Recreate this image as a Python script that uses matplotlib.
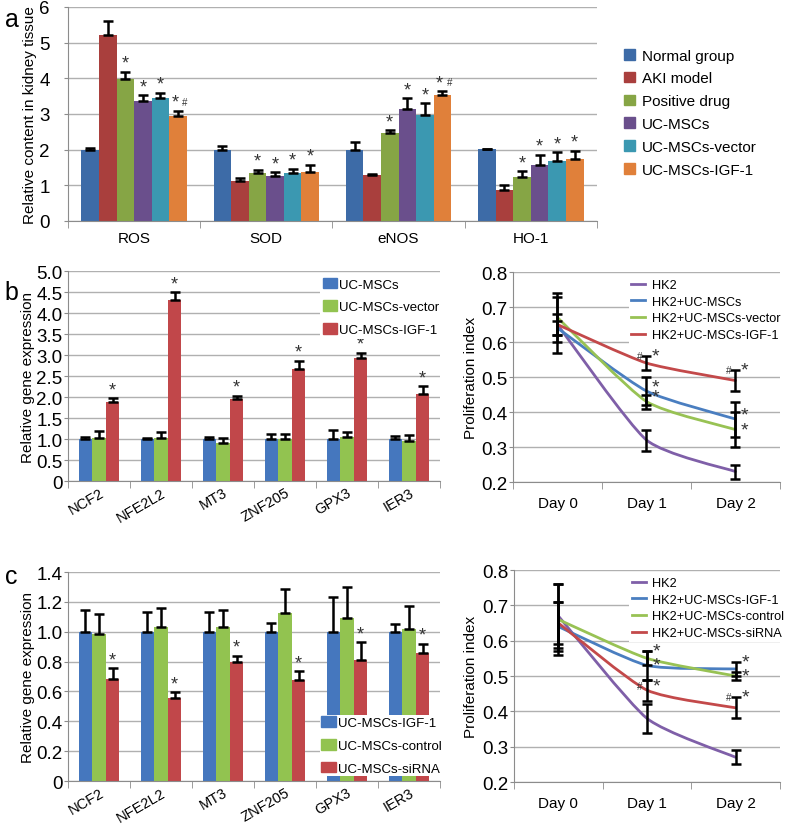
import numpy as np
import matplotlib
matplotlib.use('Agg')
import matplotlib.pyplot as plt
from matplotlib.path import Path
from matplotlib.patches import PathPatch
from matplotlib.lines import Line2D

plt.rcParams['font.family'] = ['Liberation Sans', 'DejaVu Sans']
plt.rcParams['font.size'] = 11

# panel a: kidney tissue
a_cats = ['ROS', 'SOD', 'eNOS', 'HO-1']
a_groups = ['Normal group', 'AKI model', 'Positive drug', 'UC-MSCs', 'UC-MSCs-vector', 'UC-MSCs-IGF-1']
a_normal = [2.0, 2.0, 2.0, 2.01]
a_normal_err = [0.05, 0.11, 0.2, 0.02]
a_aki = [5.2, 1.12, 1.29, 0.86]
a_aki_err = [0.42, 0.09, 0.03, 0.15]
a_drug = [3.97, 1.35, 2.48, 1.22]
a_drug_err = [0.22, 0.09, 0.07, 0.17]
a_msc = [3.36, 1.26, 3.14, 1.57]
a_msc_err = [0.16, 0.11, 0.3, 0.28]
a_vec = [3.44, 1.35, 2.98, 1.67]
a_vec_err = [0.15, 0.11, 0.32, 0.25]
a_igf = [2.95, 1.38, 3.53, 1.73]
a_igf_err = [0.14, 0.19, 0.11, 0.24]
a_marks = [['', '', '', ''], ['', '', '', ''], ['*', '*', '*', '*'],
           ['*', '*', '*', '*'], ['*', '*', '*', '*'], ['*#', '*', '*#', '*']]

# panel b: gene expression + proliferation
genes = ['NCF2', 'NFE2L2', 'MT3', 'ZNF205', 'GPX3', 'IER3']
b_groups = ['UC-MSCs', 'UC-MSCs-vector', 'UC-MSCs-IGF-1']
b_msc = [1.0, 1.0, 1.0, 1.0, 1.0, 1.0]
b_msc_err = [0.05, 0.02, 0.05, 0.11, 0.21, 0.07]
b_vec = [1.02, 1.03, 0.91, 1.0, 1.06, 0.95]
b_vec_err = [0.18, 0.14, 0.11, 0.13, 0.11, 0.14]
b_igf = [1.88, 4.3, 1.96, 2.67, 2.94, 2.07]
b_igf_err = [0.09, 0.2, 0.07, 0.19, 0.11, 0.19]
b_marks = [[''] * 6, [''] * 6, ['*'] * 6]

days = ['Day 0', 'Day 1', 'Day 2']
b_lines = ['HK2', 'HK2+UC-MSCs', 'HK2+UC-MSCs-vector', 'HK2+UC-MSCs-IGF-1']
b_hk2 = [0.65, 0.32, 0.23]
b_hk2_err = [0.08, 0.03, 0.02]
b_hk2_msc = [0.64, 0.46, 0.38]
b_hk2_msc_err = [0.02, 0.04, 0.05]
b_hk2_vec = [0.67, 0.43, 0.35]
b_hk2_vec_err = [0.07, 0.02, 0.05]
b_hk2_igf = [0.65, 0.54, 0.49]
b_hk2_igf_err = [0.03, 0.02, 0.03]
# where the significance mark sits: 'm' = at the mean, 'u' = just above the mean,
# 't' = at the top of the error bar
b_line_marks = [['', '', ''], ['', '*u', '*u'], ['', '*u', '*m'], ['', '#*t', '#*t']]

# panel c: siRNA knockdown
c_groups = ['UC-MSCs-IGF-1', 'UC-MSCs-control', 'UC-MSCs-siRNA']
c_igf = [1.0, 1.0, 1.0, 1.0, 1.0, 1.0]
c_igf_err = [0.146, 0.135, 0.135, 0.06, 0.23, 0.05]
c_ctrl = [0.985, 1.03, 1.03, 1.127, 1.093, 1.02]
c_ctrl_err = [0.135, 0.13, 0.117, 0.157, 0.207, 0.15]
c_sirna = [0.68, 0.553, 0.80, 0.677, 0.813, 0.86]
c_sirna_err = [0.075, 0.041, 0.04, 0.058, 0.117, 0.058]
c_marks = [[''] * 6, [''] * 6, ['*'] * 6]

c_lines = ['HK2', 'HK2+UC-MSCs-IGF-1', 'HK2+UC-MSCs-control', 'HK2+UC-MSCs-siRNA']
c_hk2 = [0.67, 0.38, 0.27]
c_hk2_err = [0.09, 0.04, 0.02]
c_hk2_igf = [0.64, 0.53, 0.52]
c_hk2_igf_err = [0.07, 0.04, 0.02]
c_hk2_ctrl = [0.66, 0.55, 0.50]
c_hk2_ctrl_err = [0.10, 0.02, 0.01]
c_hk2_sirna = [0.65, 0.46, 0.41]
c_hk2_sirna_err = [0.06, 0.03, 0.03]
c_line_marks = [['', '', ''], ['', '*m', '*t'], ['', '*t', '*m'], ['', '#*u', '#*t']]

a_colors = ['#3D6BA7', '#A93F3D', '#86A545', '#6A4F8C', '#3B98B1', '#E0803A']
bc_colors = ['#4577BE', '#92C350', '#C1474A']
line_colors = ['#7F5FA8', '#4A7EC0', '#98C254', '#C3494A']

GRID = '#B0B0B0'
AXC = '#8C8C8C'
MARKC = '#333333'


def style_axes(ax, ncat, ypad):
    ax.set_xlim(-0.5, ncat - 0.5)
    ax.yaxis.grid(True, color=GRID, lw=1.0, zorder=0)
    ax.set_axisbelow(True)
    for s in ['top', 'right']:
        ax.spines[s].set_visible(False)
    for s in ['left', 'bottom']:
        ax.spines[s].set_color(AXC)
    ax.set_xticks(np.arange(-0.5, ncat), minor=True)
    ax.tick_params(axis='x', which='major', length=0)
    ax.tick_params(axis='x', which='minor', length=5, color=AXC)
    ax.tick_params(axis='y', length=3, color=AXC, pad=ypad, labelsize=13.5)


def bar_panel(ax, cats, vals, errs, colors, width, marks, ypad):
    x = np.arange(len(cats))
    n = len(vals)
    for i in range(n):
        pos = x + (i - (n - 1) / 2) * width
        v = np.array(vals[i])
        e = np.array(errs[i])
        ax.bar(pos, v, width, color=colors[i], zorder=2)
        ax.errorbar(pos, v, yerr=[np.zeros(len(v)), e], fmt='none', ecolor='black',
                    elinewidth=1.8, capsize=3.5, capthick=1.8, zorder=3)
        for j, m in enumerate(marks[i]):
            if not m:
                continue
            top = v[j] + e[j]
            if '#' in m:
                ax.annotate('*', (pos[j], top), xytext=(-2, 0), textcoords='offset points',
                            ha='center', va='bottom', fontsize=13, color=MARKC)
                ax.annotate('#', (pos[j], top), xytext=(5, 3), textcoords='offset points',
                            ha='center', va='bottom', fontsize=7, color=MARKC)
            else:
                ax.annotate('*', (pos[j], top), xytext=(0, 0), textcoords='offset points',
                            ha='center', va='bottom', fontsize=13, color=MARKC)
    ax.set_xticks(x)
    style_axes(ax, len(cats), ypad)


def smooth_path(x, y, k=10.0):
    # gently smoothed line (Excel style): cubic Bezier through the points
    pts = np.column_stack([x, y]).astype(float)
    ext = np.vstack([pts[0], pts, pts[-1]])
    verts = [pts[0]]
    codes = [Path.MOVETO]
    for s in range(len(pts) - 1):
        p0, p1, p2, p3 = ext[s], ext[s + 1], ext[s + 2], ext[s + 3]
        verts += [p1 + (p2 - p0) / k, p2 - (p3 - p1) / k, p2]
        codes += [Path.CURVE4] * 3
    return Path(verts, codes)


def line_panel(ax, vals, errs, labels, marks):
    x = np.arange(len(days))
    handles = []
    for i in range(len(vals)):
        v = np.array(vals[i])
        e = np.array(errs[i])
        ax.add_patch(PathPatch(smooth_path(x, v), fill=False, edgecolor=line_colors[i],
                               lw=2.0, zorder=3, capstyle='round'))
        handles.append(Line2D([], [], color=line_colors[i], lw=2.0))
        ax.errorbar(x, v, yerr=e, fmt='none', ecolor='black', elinewidth=1.8,
                    capsize=3.5, capthick=1.8, zorder=4)
        for j, m in enumerate(marks[i]):
            if not m:
                continue
            yy = v[j] + (e[j] if m.endswith('t') else 0.0)
            dy = 3 if m.endswith('u') else 0
            ax.annotate('*', (x[j], yy), xytext=(4, dy), textcoords='offset points',
                        ha='left', va='center', fontsize=14, color=MARKC, zorder=5)
            if '#' in m:
                ax.annotate('#', (x[j], yy), xytext=(-3, dy), textcoords='offset points',
                            ha='right', va='center', fontsize=7, color=MARKC, zorder=5)
    ax.set_xticks(x)
    ax.set_xticklabels(days)
    style_axes(ax, len(days), 1)
    ax.tick_params(axis='x', which='major', pad=10)
    ax.set_ylim(0.2, 0.8)
    ax.set_yticks([0.2, 0.3, 0.4, 0.5, 0.6, 0.7, 0.8])
    ax.set_yticklabels(['0.2', '0.3', '0.4', '0.5', '0.6', '0.7', '0.8'])
    ax.set_ylabel('Proliferation index')
    leg = ax.legend(handles, labels, loc='upper left', bbox_to_anchor=(0.41, 1.008), fontsize=9.2,
                    handlelength=1.1, handletextpad=0.5, labelspacing=0.36,
                    frameon=True, facecolor='white', edgecolor='none', framealpha=1,
                    fancybox=False, borderpad=0.2)
    leg.set_zorder(6)


fig = plt.figure(figsize=(7.87, 8.37), dpi=100)

# a
ax_a = fig.add_axes([0.0864, 0.7348, 0.672, 0.2557])
bar_panel(ax_a, a_cats, [a_normal, a_aki, a_drug, a_msc, a_vec, a_igf],
          [a_normal_err, a_aki_err, a_drug_err, a_msc_err, a_vec_err, a_igf_err],
          a_colors, 0.133, a_marks, 10)
ax_a.set_xticklabels(a_cats)
ax_a.tick_params(axis='x', which='major', pad=7)
ax_a.set_ylim(0, 6)
ax_a.set_yticks(range(7))
ax_a.set_ylabel('Relative content in kidney tissue')
ax_a.yaxis.set_label_coords(-0.058, 0.5)
handles = [plt.Rectangle((0, 0), 1, 1, color=c) for c in a_colors]
ax_a.legend(handles, a_groups, loc='upper left', bbox_to_anchor=(1.025, 0.87), frameon=False,
            handlelength=0.7, handleheight=0.7, handletextpad=0.5, labelspacing=0.58, fontsize=11)

# b left
ax_b = fig.add_axes([0.0864, 0.4241, 0.4727, 0.2509])
bar_panel(ax_b, genes, [b_msc, b_vec, b_igf], [b_msc_err, b_vec_err, b_igf_err],
          bc_colors, 0.22, b_marks, 1)
ax_b.set_xticklabels(genes, rotation=30, ha='right', rotation_mode='anchor', fontsize=10.5)
ax_b.tick_params(axis='x', which='major', pad=3)
ax_b.set_ylim(0, 5)
ax_b.set_yticks(np.arange(0, 5.01, 0.5))
ax_b.set_yticklabels(['0'] + ['%.1f' % t for t in np.arange(0.5, 5.01, 0.5)])
ax_b.set_ylabel('Relative gene expression')
ax_b.yaxis.set_label_coords(-0.089, 0.5)
handles = [plt.Rectangle((0, 0), 1, 1, color=c) for c in bc_colors]
lb = ax_b.legend(handles, b_groups, loc='upper left', bbox_to_anchor=(0.66, 1.012), fontsize=9.5,
                 handlelength=1.1, handleheight=0.85, handletextpad=0.15, labelspacing=0.75,
                 frameon=True, facecolor='white', edgecolor='none', framealpha=1,
                 fancybox=False, borderpad=0.2)

# b right
ax_br = fig.add_axes([0.6518, 0.4229, 0.3393, 0.2509])
line_panel(ax_br, [b_hk2, b_hk2_msc, b_hk2_vec, b_hk2_igf],
           [b_hk2_err, b_hk2_msc_err, b_hk2_vec_err, b_hk2_igf_err], b_lines, b_line_marks)
ax_br.yaxis.set_label_coords(-0.131, 0.5)

# c left
ax_c = fig.add_axes([0.0864, 0.0657, 0.4727, 0.2497])
bar_panel(ax_c, genes, [c_igf, c_ctrl, c_sirna], [c_igf_err, c_ctrl_err, c_sirna_err],
          bc_colors, 0.22, c_marks, 1)
ax_c.set_xticklabels(genes, rotation=30, ha='right', rotation_mode='anchor', fontsize=10.5)
ax_c.tick_params(axis='x', which='major', pad=3)
ax_c.set_ylim(0, 1.4)
ax_c.set_yticks(np.arange(0, 1.41, 0.2))
ax_c.set_yticklabels(['0'] + ['%.1f' % t for t in np.arange(0.2, 1.41, 0.2)])
ax_c.set_ylabel('Relative gene expression')
ax_c.yaxis.set_label_coords(-0.089, 0.5)
handles = [plt.Rectangle((0, 0), 1, 1, color=c) for c in bc_colors]
lc = ax_c.legend(handles, c_groups, loc='lower left', bbox_to_anchor=(0.66, -0.008), fontsize=9.5,
                 handlelength=1.1, handleheight=0.85, handletextpad=0.15, labelspacing=0.75,
                 frameon=True, facecolor='white', edgecolor='none', framealpha=1,
                 fancybox=False, borderpad=0.1)
lc.set_zorder(6)

# c right
ax_cr = fig.add_axes([0.6531, 0.0645, 0.338, 0.2533])
line_panel(ax_cr, [c_hk2, c_hk2_igf, c_hk2_ctrl, c_hk2_sirna],
           [c_hk2_err, c_hk2_igf_err, c_hk2_ctrl_err, c_hk2_sirna_err], c_lines, c_line_marks)
ax_cr.yaxis.set_label_coords(-0.135, 0.5)

fig.text(0.006, 0.99, 'a', fontsize=18, va='top')
fig.text(0.006, 0.664, 'b', fontsize=18, va='top')
fig.text(0.006, 0.325, 'c', fontsize=18, va='top')

fig.savefig('out.png', dpi=100)
